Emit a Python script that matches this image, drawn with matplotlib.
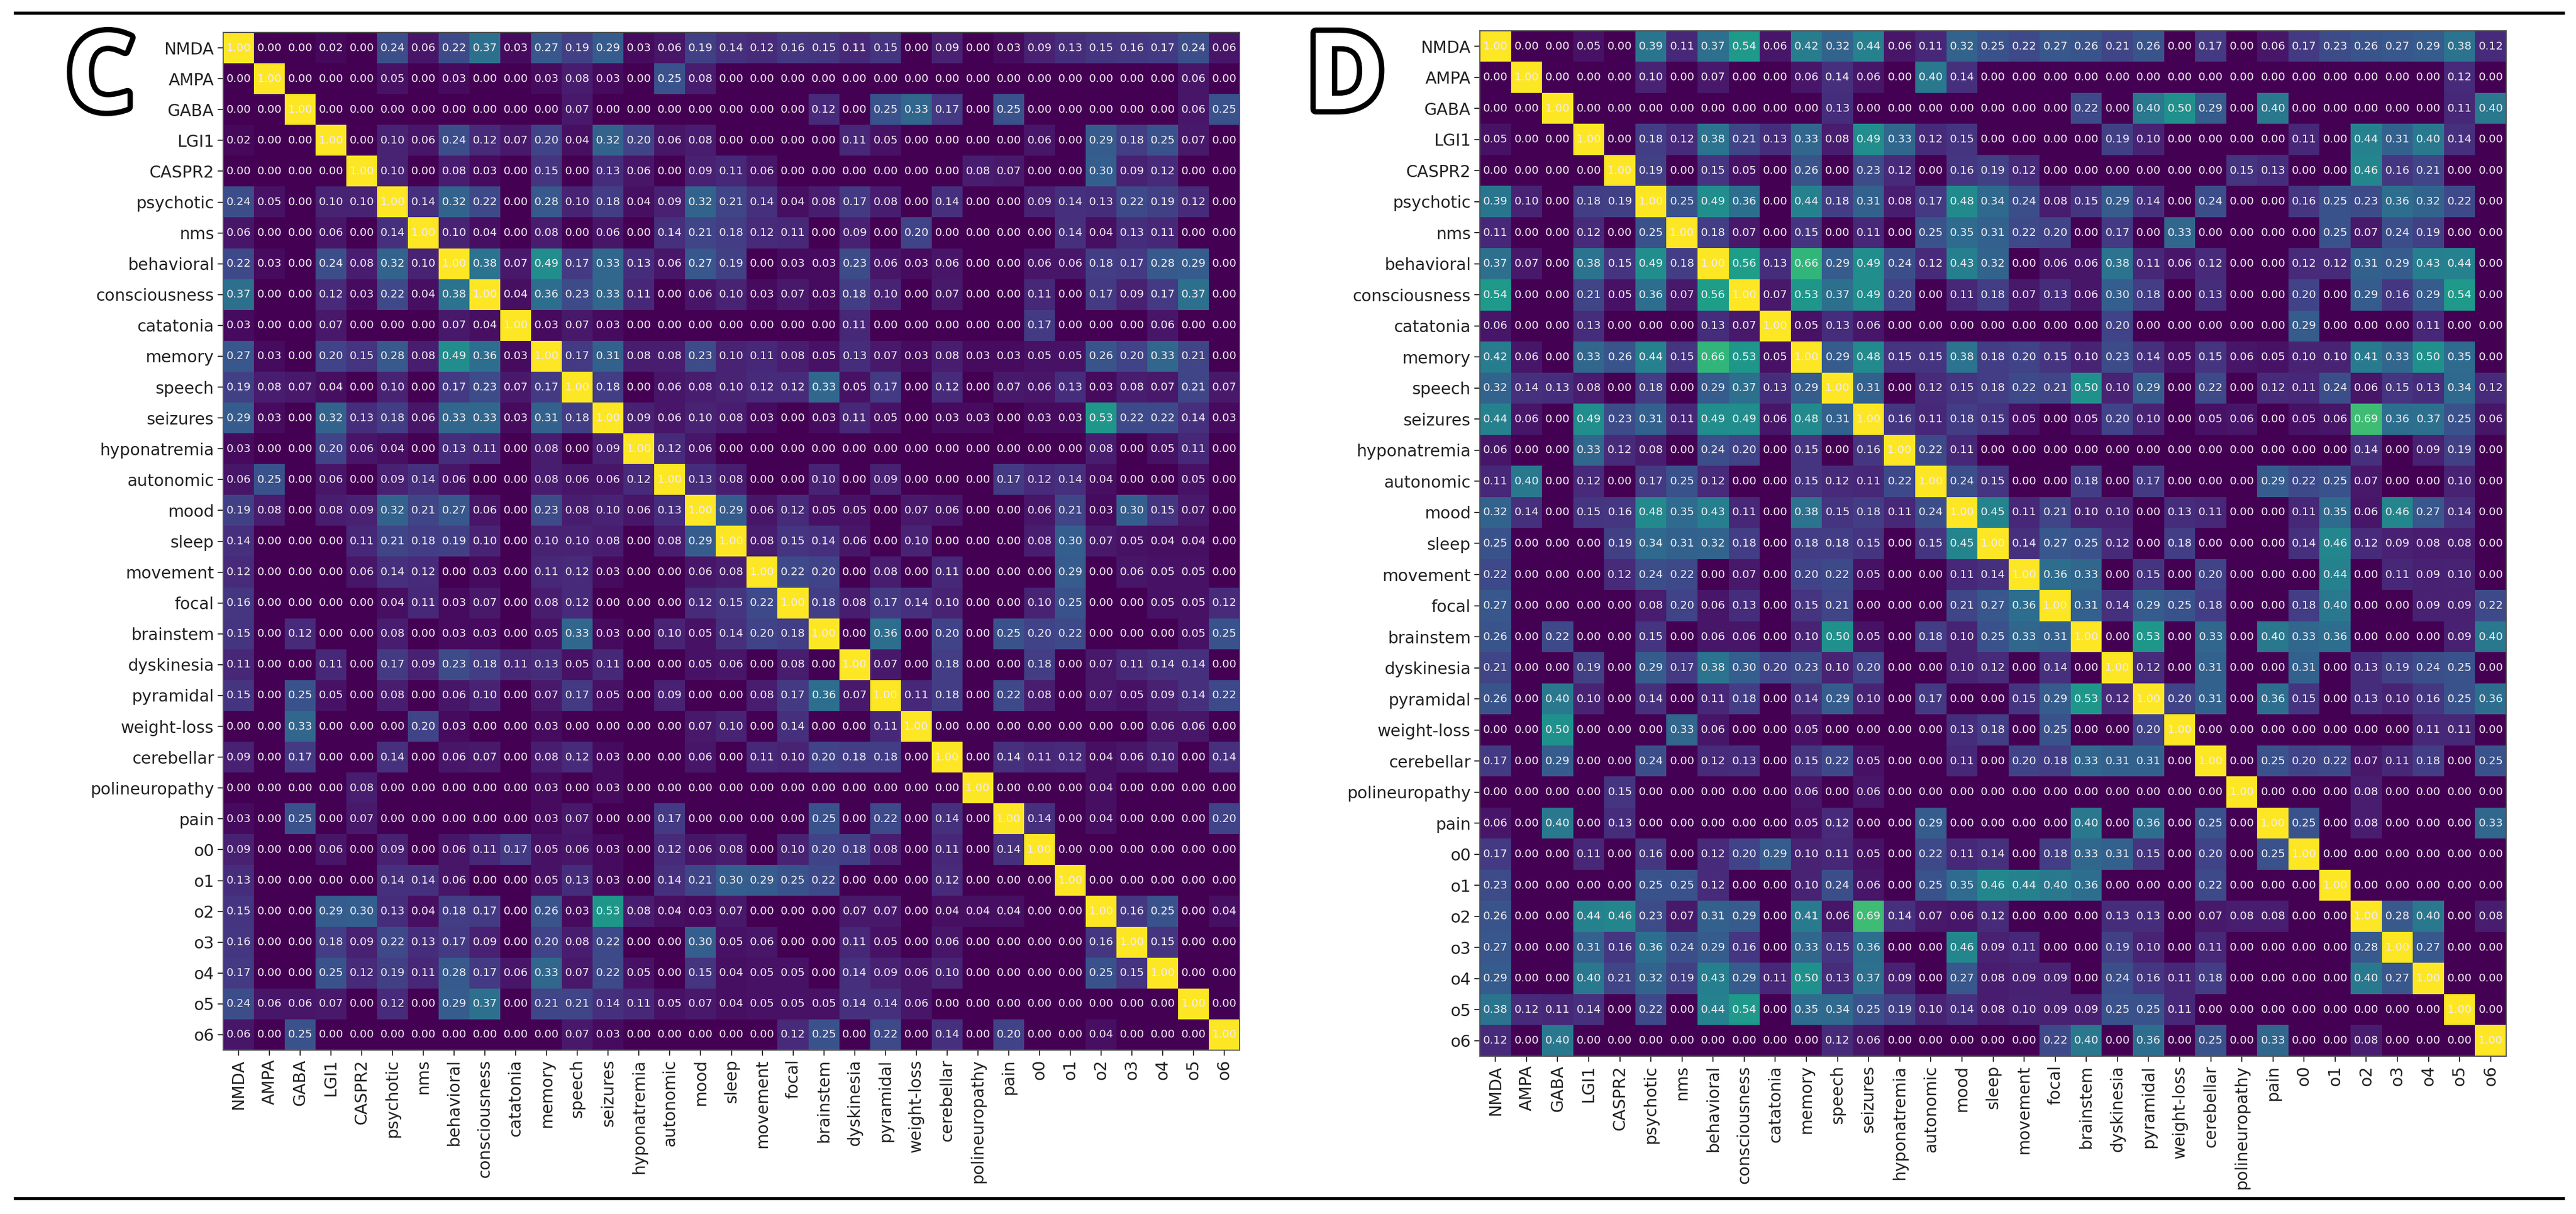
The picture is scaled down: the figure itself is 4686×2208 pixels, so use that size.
import numpy as np
import matplotlib
matplotlib.use("Agg")
import matplotlib.pyplot as plt
import matplotlib.patheffects as pe
from matplotlib.lines import Line2D

etiquetas = ['NMDA', 'AMPA', 'GABA', 'LGI1', 'CASPR2', 'psychotic', 'nms', 'behavioral',
             'consciousness', 'catatonia', 'memory', 'speech', 'seizures', 'hyponatremia',
             'autonomic', 'mood', 'sleep', 'movement', 'focal', 'brainstem', 'dyskinesia',
             'pyramidal', 'weight-loss', 'cerebellar', 'polineuropathy', 'pain',
             'o0', 'o1', 'o2', 'o3', 'o4', 'o5', 'o6']

# triangulo superior de cada matriz, fila por fila desde la diagonal
filas_c = [
    [1.00, .00, .00, .02, .00, .24, .06, .22, .37, .03, .27, .19, .29, .03, .06, .19, .14, .12, .16, .15, .11, .15, .00, .09, .00, .03, .09, .13, .15, .16, .17, .24, .06],
    [1.00, .00, .00, .00, .05, .00, .03, .00, .00, .03, .08, .03, .00, .25, .08, .00, .00, .00, .00, .00, .00, .00, .00, .00, .00, .00, .00, .00, .00, .00, .06, .00],
    [1.00, .00, .00, .00, .00, .00, .00, .00, .00, .07, .00, .00, .00, .00, .00, .00, .00, .12, .00, .25, .33, .17, .00, .25, .00, .00, .00, .00, .00, .06, .25],
    [1.00, .00, .10, .06, .24, .12, .07, .20, .04, .32, .20, .06, .08, .00, .00, .00, .00, .11, .05, .00, .00, .00, .00, .06, .00, .29, .18, .25, .07, .00],
    [1.00, .10, .00, .08, .03, .00, .15, .00, .13, .06, .00, .09, .11, .06, .00, .00, .00, .00, .00, .00, .08, .07, .00, .00, .30, .09, .12, .00, .00],
    [1.00, .14, .32, .22, .00, .28, .10, .18, .04, .09, .32, .21, .14, .04, .08, .17, .08, .00, .14, .00, .00, .09, .14, .13, .22, .19, .12, .00],
    [1.00, .10, .04, .00, .08, .00, .06, .00, .14, .21, .18, .12, .11, .00, .09, .00, .20, .00, .00, .00, .00, .14, .04, .13, .11, .00, .00],
    [1.00, .38, .07, .49, .17, .33, .13, .06, .27, .19, .00, .03, .03, .23, .06, .03, .06, .00, .00, .06, .06, .18, .17, .28, .29, .00],
    [1.00, .04, .36, .23, .33, .11, .00, .06, .10, .03, .07, .03, .18, .10, .00, .07, .00, .00, .11, .00, .17, .09, .17, .37, .00],
    [1.00, .03, .07, .03, .00, .00, .00, .00, .00, .00, .00, .11, .00, .00, .00, .00, .00, .17, .00, .00, .00, .06, .00, .00],
    [1.00, .17, .31, .08, .08, .23, .10, .11, .08, .05, .13, .07, .03, .08, .03, .03, .05, .05, .26, .20, .33, .21, .00],
    [1.00, .18, .00, .06, .08, .10, .12, .12, .33, .05, .17, .00, .12, .00, .07, .06, .13, .03, .08, .07, .21, .07],
    [1.00, .09, .06, .10, .08, .03, .00, .03, .11, .05, .00, .03, .03, .00, .03, .03, .53, .22, .22, .14, .03],
    [1.00, .12, .06, .00, .00, .00, .00, .00, .00, .00, .00, .00, .00, .00, .00, .08, .00, .05, .11, .00],
    [1.00, .13, .08, .00, .00, .10, .00, .09, .00, .00, .00, .17, .12, .14, .04, .00, .00, .05, .00],
    [1.00, .29, .06, .12, .05, .05, .00, .07, .06, .00, .00, .06, .21, .03, .30, .15, .07, .00],
    [1.00, .08, .15, .14, .06, .00, .10, .00, .00, .00, .08, .30, .07, .05, .04, .04, .00],
    [1.00, .22, .20, .00, .08, .00, .11, .00, .00, .00, .29, .00, .06, .05, .05, .00],
    [1.00, .18, .08, .17, .14, .10, .00, .00, .10, .25, .00, .00, .05, .05, .12],
    [1.00, .00, .36, .00, .20, .00, .25, .20, .22, .00, .00, .00, .05, .25],
    [1.00, .07, .00, .18, .00, .00, .18, .00, .07, .11, .14, .14, .00],
    [1.00, .11, .18, .00, .22, .08, .00, .07, .05, .09, .14, .22],
    [1.00, .00, .00, .00, .00, .00, .00, .00, .06, .06, .00],
    [1.00, .00, .14, .11, .12, .04, .06, .10, .00, .14],
    [1.00, .00, .00, .00, .04, .00, .00, .00, .00],
    [1.00, .14, .00, .04, .00, .00, .00, .20],
    [1.00, .00, .00, .00, .00, .00, .00],
    [1.00, .00, .00, .00, .00, .00],
    [1.00, .16, .25, .00, .04],
    [1.00, .15, .00, .00],
    [1.00, .00, .00],
    [1.00, .00],
    [1.00],
]

filas_d = [
    [1.00, .00, .00, .05, .00, .39, .11, .37, .54, .06, .42, .32, .44, .06, .11, .32, .25, .22, .27, .26, .21, .26, .00, .17, .00, .06, .17, .23, .26, .27, .29, .38, .12],
    [1.00, .00, .00, .00, .10, .00, .07, .00, .00, .06, .14, .06, .00, .40, .14, .00, .00, .00, .00, .00, .00, .00, .00, .00, .00, .00, .00, .00, .00, .00, .12, .00],
    [1.00, .00, .00, .00, .00, .00, .00, .00, .00, .13, .00, .00, .00, .00, .00, .00, .00, .22, .00, .40, .50, .29, .00, .40, .00, .00, .00, .00, .00, .11, .40],
    [1.00, .00, .18, .12, .38, .21, .13, .33, .08, .49, .33, .12, .15, .00, .00, .00, .00, .19, .10, .00, .00, .00, .00, .11, .00, .44, .31, .40, .14, .00],
    [1.00, .19, .00, .15, .05, .00, .26, .00, .23, .12, .00, .16, .19, .12, .00, .00, .00, .00, .00, .00, .15, .13, .00, .00, .46, .16, .21, .00, .00],
    [1.00, .25, .49, .36, .00, .44, .18, .31, .08, .17, .48, .34, .24, .08, .15, .29, .14, .00, .24, .00, .00, .16, .25, .23, .36, .32, .22, .00],
    [1.00, .18, .07, .00, .15, .00, .11, .00, .25, .35, .31, .22, .20, .00, .17, .00, .33, .00, .00, .00, .00, .25, .07, .24, .19, .00, .00],
    [1.00, .56, .13, .66, .29, .49, .24, .12, .43, .32, .00, .06, .06, .38, .11, .06, .12, .00, .00, .12, .12, .31, .29, .43, .44, .00],
    [1.00, .07, .53, .37, .49, .20, .00, .11, .18, .07, .13, .06, .30, .18, .00, .13, .00, .00, .20, .00, .29, .16, .29, .54, .00],
    [1.00, .05, .13, .06, .00, .00, .00, .00, .00, .00, .00, .20, .00, .00, .00, .00, .00, .29, .00, .00, .00, .11, .00, .00],
    [1.00, .29, .48, .15, .15, .38, .18, .20, .15, .10, .23, .14, .05, .15, .06, .05, .10, .10, .41, .33, .50, .35, .00],
    [1.00, .31, .00, .12, .15, .18, .22, .21, .50, .10, .29, .00, .22, .00, .12, .11, .24, .06, .15, .13, .34, .12],
    [1.00, .16, .11, .18, .15, .05, .00, .05, .20, .10, .00, .05, .06, .00, .05, .06, .69, .36, .37, .25, .06],
    [1.00, .22, .11, .00, .00, .00, .00, .00, .00, .00, .00, .00, .00, .00, .00, .14, .00, .09, .19, .00],
    [1.00, .24, .15, .00, .00, .18, .00, .17, .00, .00, .00, .29, .22, .25, .07, .00, .00, .10, .00],
    [1.00, .45, .11, .21, .10, .10, .00, .13, .11, .00, .00, .11, .35, .06, .46, .27, .14, .00],
    [1.00, .14, .27, .25, .12, .00, .18, .00, .00, .00, .14, .46, .12, .09, .08, .08, .00],
    [1.00, .36, .33, .00, .15, .00, .20, .00, .00, .00, .44, .00, .11, .09, .10, .00],
    [1.00, .31, .14, .29, .25, .18, .00, .00, .18, .40, .00, .00, .09, .09, .22],
    [1.00, .00, .53, .00, .33, .00, .40, .33, .36, .00, .00, .00, .09, .40],
    [1.00, .12, .00, .31, .00, .00, .31, .00, .13, .19, .24, .25, .00],
    [1.00, .20, .31, .00, .36, .15, .00, .13, .10, .16, .25, .36],
    [1.00, .00, .00, .00, .00, .00, .00, .00, .11, .11, .00],
    [1.00, .00, .25, .20, .22, .07, .11, .18, .00, .25],
    [1.00, .00, .00, .00, .08, .00, .00, .00, .00],
    [1.00, .25, .00, .08, .00, .00, .00, .33],
    [1.00, .00, .00, .00, .00, .00, .00],
    [1.00, .00, .00, .00, .00, .00],
    [1.00, .28, .40, .00, .08],
    [1.00, .27, .00, .00],
    [1.00, .00, .00],
    [1.00, .00],
    [1.00],
]

ANCHO = 4686
ALTO = 2208


def a_matriz(filas):
    n = len(filas)
    m = np.zeros((n, n))
    for i, fila in enumerate(filas):
        m[i, i:] = fila
        m[i:, i] = fila
    return m


def ejes_px(fig, izq, arriba, der, abajo):
    return fig.add_axes([izq / ANCHO, 1 - abajo / ALTO, (der - izq) / ANCHO, (abajo - arriba) / ALTO])


def dibujar(ax, filas):
    m = a_matriz(filas)
    ax.imshow(m, cmap='viridis', vmin=0, vmax=1, aspect='auto', interpolation='nearest')
    ax.set_xticks(range(len(etiquetas)))
    ax.set_yticks(range(len(etiquetas)))
    ax.set_xticklabels(etiquetas, rotation=90)
    ax.set_yticklabels(etiquetas)
    ax.tick_params(labelsize=21.5, length=7, width=1.5, color='#333333', labelcolor='#222222', pad=5)
    for lado in ax.spines.values():
        lado.set_color('#555555')
        lado.set_linewidth(1.5)
    for i in range(m.shape[0]):
        for j in range(m.shape[1]):
            ax.text(j, i, f"{m[i, j]:.2f}", ha='center', va='center', color='#f2ecf2', fontsize=14.5)


fig = plt.figure(figsize=(ANCHO / 100, ALTO / 100), dpi=100)

dibujar(ejes_px(fig, 406, 59, 2255, 1910), filas_c)
dibujar(ejes_px(fig, 2692, 56, 4559, 1921), filas_d)

# letras de panel con contorno
contorno = [pe.withStroke(linewidth=14, foreground='black')]
fig.text(182 / ANCHO, 1 - 149 / ALTO, 'C', fontsize=140, family='Open Sans', weight='bold', color='white',
         ha='center', va='center', path_effects=contorno)
fig.text(2448 / ANCHO, 1 - 148 / ALTO, 'D', fontsize=140, family='Open Sans', weight='bold', color='white',
         ha='center', va='center', path_effects=contorno)

# lineas de la tabla arriba y abajo
for y in (24, 2180):
    fig.add_artist(Line2D([28 / ANCHO, 4663 / ANCHO], [1 - y / ALTO, 1 - y / ALTO], color='black', lw=4))

fig.savefig('out.png', dpi=100)
